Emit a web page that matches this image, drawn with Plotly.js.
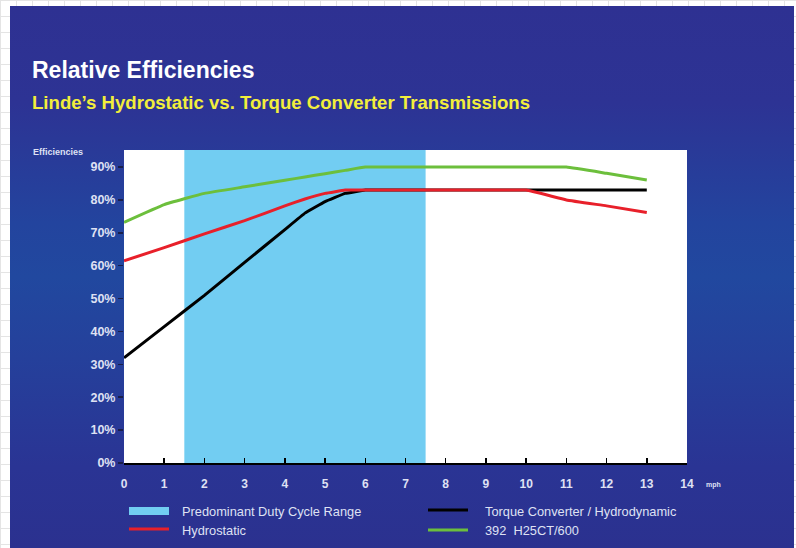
<!DOCTYPE html>
<html>
<head>
<meta charset="utf-8">
<script src="https://cdn.plot.ly/plotly-3.0.1.min.js"></script>
<style>
  html, body { margin:0; padding:0; width:796px; height:548px; overflow:hidden; }
  body {
    background-color:#ffffff;
    background-image:
      linear-gradient(to right, #e4e4e4 1px, transparent 1px),
      linear-gradient(to bottom, #e4e4e4 1px, transparent 1px);
    background-size: 16px 16px;
  }
  #panel {
    position:absolute; left:10px; top:6px; width:784px; height:542px;
    background: linear-gradient(to bottom, #2e3192 0%, #2d3394 18%, #23449e 40%, #21489f 50%, #25409b 65%, #2a3494 85%, #2b318f 100%);
  }
  #chart { position:absolute; left:0; top:0; width:796px; height:548px; }
</style>
</head>
<body>
<div id="panel"></div>
<div id="chart"></div>
<script>
// Data
const speedMph = [0, 1, 2, 3, 4, 4.5, 5, 5.5, 6, 7, 8, 9, 10, 11, 12, 13];
const torqueConverter = [32, 41.5, 51, 61, 71, 76, 79.5, 82, 83, 83, 83, 83, 83, 83, 83, 83];
const hydrostatic = [61.5, 65.5, 69.7, 73.7, 78.2, 80.3, 82, 83, 83, 83, 83, 83, 83, 80, 78.2, 76.2];
const h25ct = [73.2, 78.6, 82, 84, 86, 87, 88, 89, 90, 90, 90, 90, 90, 90, 88.1, 86.1];
const dutyRange = [1.5, 7.5];
const xTicks = [0,1,2,3,4,5,6,7,8,9,10,11,12,13,14];
const yTicks = [0,10,20,30,40,50,60,70,80,90];

const seriesNames = {
  duty: 'Predominant Duty Cycle Range',
  tc: 'Torque Converter / Hydrodynamic',
  hydro: 'Hydrostatic',
  h25: '392  H25CT/600'
};
const colors = { duty:'#72cdf2', tc:'#000000', hydro:'#e8202a', h25:'#6cbf3c' };

const traces = [
  { x: speedMph, y: h25ct, mode:'lines', line:{color:colors.h25, width:3, shape:'spline', smoothing:0.3}, name: seriesNames.h25, showlegend:false },
  { x: speedMph, y: torqueConverter, mode:'lines', line:{color:colors.tc, width:3, shape:'spline', smoothing:0.2}, name: seriesNames.tc, showlegend:false },
  { x: speedMph, y: hydrostatic, mode:'lines', line:{color:colors.hydro, width:3, shape:'spline', smoothing:0.3}, name: seriesNames.hydro, showlegend:false }
];

// pixel -> paper helpers for decorations
const L = 124, R = 687, T = 150, B = 463;
const px = v => (v - L) / (R - L);
const py = v => (B - v) / (B - T);

const txtColor = '#dfe1f3';
const FF = 'Liberation Sans, Arial, sans-serif';
const annotations = [
  { text:'Relative Efficiencies', xref:'paper', yref:'paper', x:px(30), y:py(70), xanchor:'left', yanchor:'middle', showarrow:false,
    font:{family:FF, size:23, color:'#ffffff', weight:'bold'} },
  { text:'Linde\u2019s Hydrostatic vs. Torque Converter Transmissions', xref:'paper', yref:'paper', x:px(30), y:py(103), xanchor:'left', yanchor:'middle', showarrow:false,
    font:{family:FF, size:18.6, color:'#f2ee3b', weight:'bold'} },
  { text:'Efficiencies', xref:'paper', yref:'paper', x:px(31), y:py(152), xanchor:'left', yanchor:'middle', showarrow:false,
    font:{family:FF, size:9, color:txtColor, weight:'bold'} },
  { text:'mph', xref:'paper', yref:'paper', x:px(704), y:py(485), xanchor:'left', yanchor:'middle', showarrow:false,
    font:{family:FF, size:7, color:txtColor, weight:'bold'} },
  { text:seriesNames.duty, xref:'paper', yref:'paper', x:px(180), y:py(511), xanchor:'left', yanchor:'middle', showarrow:false,
    font:{family:FF, size:12.8, color:txtColor} },
  { text:seriesNames.hydro, xref:'paper', yref:'paper', x:px(180), y:py(530), xanchor:'left', yanchor:'middle', showarrow:false,
    font:{family:FF, size:12.8, color:txtColor} },
  { text:seriesNames.tc, xref:'paper', yref:'paper', x:px(483), y:py(511), xanchor:'left', yanchor:'middle', showarrow:false,
    font:{family:FF, size:12.8, color:txtColor} },
  { text:seriesNames.h25, xref:'paper', yref:'paper', x:px(483), y:py(530), xanchor:'left', yanchor:'middle', showarrow:false,
    font:{family:FF, size:12.8, color:txtColor} }
];

const shapes = [
  { type:'rect', xref:'x', yref:'paper', x0:dutyRange[0], x1:dutyRange[1], y0:0, y1:1, fillcolor:colors.duty, line:{width:0}, layer:'below' },
  // legend swatches
  { type:'rect', xref:'paper', yref:'paper', x0:px(129), x1:px(169), y0:py(515), y1:py(507), fillcolor:colors.duty, line:{width:0} },
  { type:'line', xref:'paper', yref:'paper', x0:px(129), x1:px(169), y0:py(529), y1:py(529), line:{color:colors.hydro, width:3} },
  { type:'line', xref:'paper', yref:'paper', x0:px(428), x1:px(468), y0:py(510), y1:py(510), line:{color:colors.tc, width:3} },
  { type:'line', xref:'paper', yref:'paper', x0:px(428), x1:px(468), y0:py(530), y1:py(530), line:{color:colors.h25, width:3} }
];

const layout = {
  width:796, height:548,
  margin:{l:L, r:796-R, t:T, b:548-B, pad:0},
  paper_bgcolor:'rgba(0,0,0,0)',
  plot_bgcolor:'#ffffff',
  showlegend:false,
  xaxis:{
    range:[0,14], tickvals:xTicks, ticktext:xTicks.map(String),
    showgrid:false, zeroline:false,
    showline:true, linecolor:'#000000', linewidth:2,
    ticks:'inside', ticklen:5, tickcolor:'#000000', tickwidth:1.5,
    ticklabelstandoff:9,
    tickfont:{family:FF, size:12, color:txtColor, weight:'bold'},
    fixedrange:true
  },
  yaxis:{
    range:[0,95.2], tickvals:yTicks, ticktext:yTicks.map(v => v + '%'),
    showgrid:false, zeroline:false, showline:false,
    ticks:'outside', ticklen:5, tickcolor:'#1a1f4a', tickwidth:1.5,
    tickfont:{family:FF, size:12.5, color:txtColor, weight:'bold'},
    fixedrange:true
  },
  shapes: shapes,
  annotations: annotations
};

Plotly.newPlot('chart', traces, layout, {displayModeBar:false, staticPlot:true});
</script>
</body>
</html>
